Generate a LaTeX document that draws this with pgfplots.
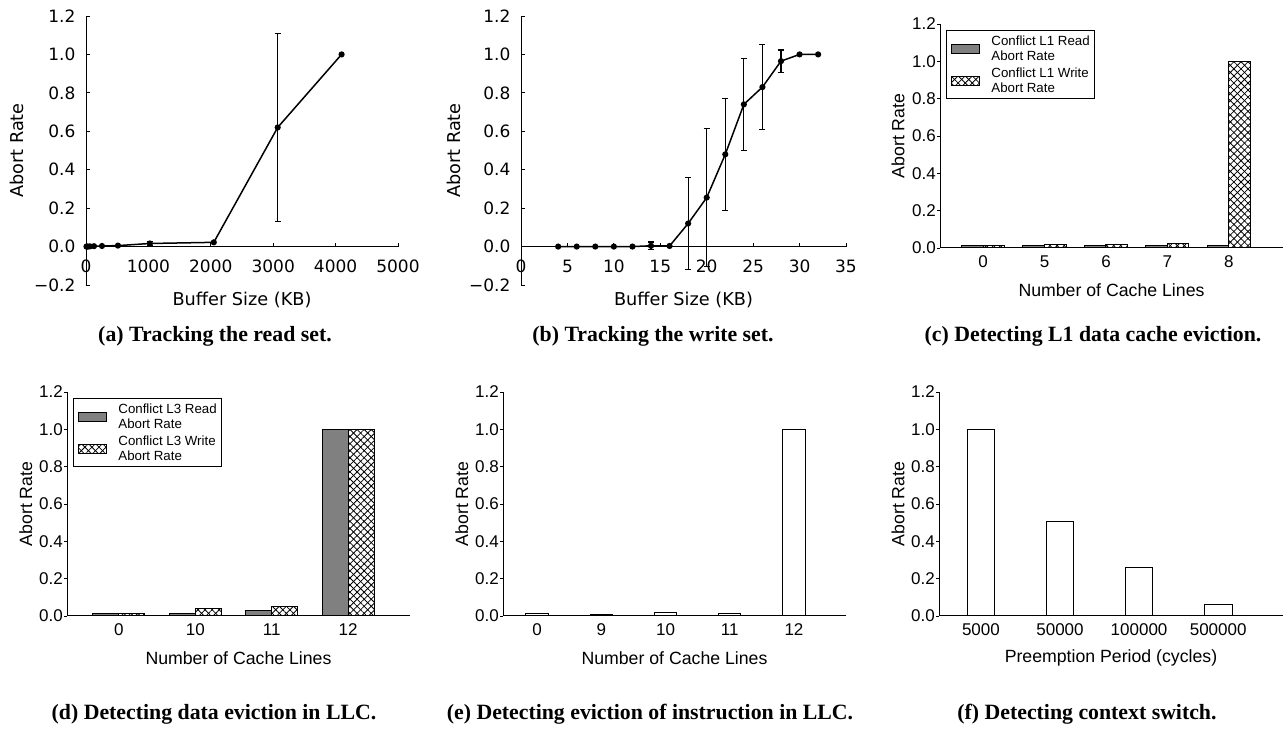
\documentclass[border=0pt]{standalone}
\usepackage{fontspec}
\setmainfont{Liberation Sans}
\newfontfamily\dejavu{DejaVu Sans}
\newfontfamily\capfont{Liberation Serif}
\usepackage{pgfplots}
\pgfplotsset{compat=1.18}
\usetikzlibrary{patterns.meta}

\definecolor{readgray}{RGB}{128,128,128}

\pgfplotsset{
  lineaxis/.style={
    scale only axis, anchor=south west, clip=false,
    axis lines=middle, axis line style={-, line width=1pt},
    hide obscured x ticks=false, hide obscured y ticks=false,
    ymin=-0.2, ymax=1.2,
    ytick={-0.2,0,0.2,0.4,0.6,0.8,1.0,1.2},
    yticklabels={−0.2,0.0,0.2,0.4,0.6,0.8,1.0,1.2},
    tick label style={font=\dejavu\fontsize{17}{17}\selectfont},
    tick align=inside, major tick length=4pt,
    tick style={black, line width=0.8pt},
    xticklabel style={yshift=-10pt},
    yticklabel style={xshift=-7pt},
    xlabel={Buffer Size (KB)}, ylabel={Abort Rate},
    every axis x label/.style={at={(axis description cs:0.5,-0.056)}, anchor=center,
      font=\dejavu\fontsize{17.7}{18}\selectfont},
  },
  lineylabel/.style={every axis y label/.style={at={(axis description cs:#1,0.5)},
      rotate=90, anchor=center, font=\dejavu\fontsize{17.7}{18}\selectfont}},
  lineplot/.style={black, line width=1.5pt, mark=*, mark size=2.3pt},
  errplot/.style={draw=none, mark=none, forget plot,
    error bars/.cd, y dir=both, y explicit,
    error bar style={black, line width=1.1pt},
    error mark options={black, rotate=90, mark size=3pt, line width=1.1pt}},
  baraxis/.style={
    scale only axis, anchor=south west, width=343pt, height=224pt,
    axis lines=left, axis line style={-, line width=1pt},
    ymin=0, ymax=1.2,
    ytick={0,0.2,0.4,0.6,0.8,1.0,1.2},
    yticklabels={0.0,0.2,0.4,0.6,0.8,1.0,1.2},
    tick label style={font=\fontsize{17}{17}\selectfont},
    xtick style={draw=none}, ytick style={black, line width=0.8pt},
    tick align=outside, major tick length=3pt,
    xticklabel style={inner sep=0pt, yshift=-4pt, text height=12pt, text depth=0pt},
    yticklabel style={inner sep=1pt},
    ylabel={Abort Rate},
    every axis x label/.style={at={(axis description cs:0.5,-0.1875)}, anchor=center,
      font=\fontsize{17.7}{18}\selectfont},
    legend style={at={(axis description cs:0.0175,0.973)}, anchor=north west,
      draw=black, line width=0.8pt, font=\fontsize{13.3}{15}\selectfont,
      inner xsep=5pt, inner ysep=5pt, row sep=6pt, column sep=11pt,
      nodes={inner sep=0pt}, cells={anchor=west, align=left}},
  },
  barylabel/.style={every axis y label/.style={at={(axis description cs:#1,0.5)},
      rotate=90, anchor=center, font=\fontsize{17.7}{18}\selectfont}},
  patch/.style={legend image code/.code={\draw[##1] (0pt,-4.5pt) rectangle (28pt,4.5pt);}},
  readbar/.style={ybar, fill=readgray, draw=black, line width=1pt, patch},
  writebar/.style={ybar, fill=white, draw=black, line width=1pt,
    postaction={pattern={Lines[angle=45,distance=5pt,line width=0.8pt]}},
    postaction={pattern={Lines[angle=-45,distance=5pt,line width=0.8pt]}}, patch},
  plainbar/.style={ybar, fill=white, draw=black, line width=1pt},
}

\begin{document}
\begin{tikzpicture}
\useasboundingbox (0,0) rectangle (1288pt,730pt);

% (a) read set
\begin{axis}[lineaxis, lineylabel=-0.221, at={(86pt,445pt)}, width=312pt, height=269pt,
  xmin=0, xmax=5000, xtick={0,1000,2000,3000,4000,5000},
  xticklabels={0,1000,2000,3000,4000,5000}]
\addplot[lineplot] coordinates {(8,0) (16,0) (32,0) (64,0.001) (128,0.002) (256,0.003) (512,0.005) (1024,0.016) (2048,0.022) (3072,0.62) (4096,1.0)};
\addplot[errplot] coordinates {(1024,0.016) +- (0,0.011) (3072,0.62) +- (0,0.49)};
\end{axis}

% (b) write set
\begin{axis}[lineaxis, lineylabel=-0.206, at={(521pt,445pt)}, width=325pt, height=269pt,
  xmin=0, xmax=35, xtick={0,5,10,15,20,25,30,35},
  xticklabels={0,5,10,15,20,25,30,35}]
\addplot[lineplot] coordinates {(4,0) (6,0) (8,0) (10,0) (12,0) (14,0.004) (16,0.003) (18,0.12) (20,0.255) (22,0.48) (24,0.74) (26,0.83) (28,0.965) (30,1.0) (32,1.0)};
\addplot[errplot] coordinates {(14,0.004) +- (0,0.02) (18,0.12) +- (0,0.24) (20,0.255) +- (0,0.36) (22,0.48) +- (0,0.29) (24,0.74) +- (0,0.24) (26,0.83) +- (0,0.22) (28,0.965) +- (0,0.058)};
\end{axis}

% (c) L1
\begin{axis}[baraxis, barylabel=-0.122, at={(940pt,482pt)},
  xmin=-0.70, xmax=4.88, xtick={0,1,2,3,4}, xticklabels={0,5,6,7,8},
  xlabel={Number of Cache Lines}]
\addplot[readbar, bar width=0.35, bar shift=-0.175] coordinates {(0,0.012) (1,0.012) (2,0.012) (3,0.012) (4,0.012)};
\addlegendentry{Conflict L1 Read\\Abort Rate}
\addplot[writebar, bar width=0.35, bar shift=0.175] coordinates {(0,0.016) (1,0.02) (2,0.02) (3,0.022) (4,1.0)};
\addlegendentry{Conflict L1 Write\\Abort Rate}
\end{axis}

% (d) LLC data
\begin{axis}[baraxis, barylabel=-0.12, at={(67pt,114pt)},
  xmin=-0.68, xmax=3.81, xtick={0,1,2,3}, xticklabels={0,10,11,12},
  xlabel={Number of Cache Lines}]
\addplot[readbar, bar width=0.34, bar shift=-0.17] coordinates {(0,0.014) (1,0.015) (2,0.03) (3,1.0)};
\addlegendentry{Conflict L3 Read\\Abort Rate}
\addplot[writebar, bar width=0.34, bar shift=0.17] coordinates {(0,0.016) (1,0.041) (2,0.05) (3,1.0)};
\addlegendentry{Conflict L3 Write\\Abort Rate}
\end{axis}

% (e) LLC instruction
\begin{axis}[baraxis, barylabel=-0.12, at={(503pt,114pt)},
  xmin=-0.53, xmax=4.81, xtick={0,1,2,3,4}, xticklabels={0,9,10,11,12},
  xlabel={Number of Cache Lines}]
\addplot[plainbar, bar width=0.35] coordinates {(0,0.012) (1,0.009) (2,0.02) (3,0.011) (4,1.0)};
\end{axis}

% (f) context switch
\begin{axis}[baraxis, barylabel=-0.119, at={(939pt,114pt)}, width=344pt,
  xmin=-0.53, xmax=3.82, xtick={0,1,2,3}, xticklabels={5000,50000,100000,500000},
  xlabel={Preemption Period (cycles)}]
\addplot[plainbar, bar width=0.35] coordinates {(0,1.0) (1,0.508) (2,0.26) (3,0.064)};
\end{axis}

\begin{scope}[every node/.style={anchor=base, font=\capfont\bfseries\fontsize{21.8}{22}\selectfont}]
\node at (215pt,388pt) {(a) Tracking the read set.};
\node at (653pt,388pt) {(b) Tracking the write set.};
\node at (1093pt,388pt) {(c) Detecting L1 data cache eviction.};
\node at (214pt,10pt) {(d) Detecting data eviction in LLC.};
\node at (650pt,10pt) {(e) Detecting eviction of instruction in LLC.};
\node at (1087pt,10pt) {(f) Detecting context switch.};
\end{scope}
\end{tikzpicture}
\end{document}
